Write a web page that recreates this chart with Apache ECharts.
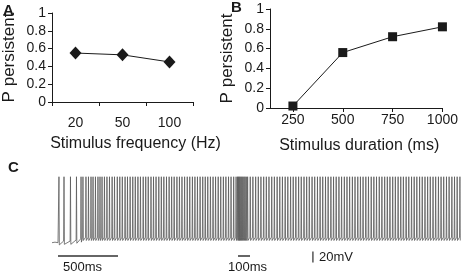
<!DOCTYPE html>
<html>
<head>
<meta charset="utf-8">
<script src="https://cdn.jsdelivr.net/npm/echarts@6/dist/echarts.min.js"></script>
<style>
  html, body { margin: 0; padding: 0; background: #fff; }
  #chart { width: 461px; height: 276px; }
</style>
</head>
<body>
<div id="chart"></div>
<script>
// panel A
const freqCategories = ['20', '50', '100'];
const freqPersistent = [0.55, 0.53, 0.45];

// panel B
const durationTicks = [250, 500, 750, 1000];
const durationPersistent = [0.02, 0.56, 0.72, 0.82];

// panel C: spike times (ms)
const spikeTimes = [
  58, 100, 154, 204, 242, 258, 283, 304, 325, 342, 362, 383, 400, 417, 437, 458,
  479, 501, 521, 544, 565, 586, 609, 629, 651, 673, 694, 716, 737, 760, 781, 802,
  825, 846, 867, 890, 911, 932, 954, 976, 997, 1018, 1041, 1062, 1083, 1105, 1127,
  1148, 1170, 1191, 1212, 1234, 1256, 1277, 1298, 1320, 1342, 1363, 1385, 1406,
  1428, 1449, 1471, 1492, 1514, 1534,
  1546, 1553, 1560, 1567, 1575, 1583, 1591, 1600, 1609, 1619, 1630,
  1652, 1674, 1697, 1719, 1741, 1764, 1786, 1808, 1831, 1853, 1876, 1898, 1920,
  1943, 1965, 1988, 2010, 2032, 2055, 2077, 2100, 2122, 2144, 2167, 2189, 2212,
  2234, 2256, 2279, 2301, 2324, 2346, 2368, 2391, 2413, 2436, 2458, 2480, 2503,
  2525, 2548, 2570, 2592, 2615, 2637, 2660, 2682, 2704, 2727, 2749, 2772, 2794,
  2816, 2839, 2861, 2884, 2906, 2928, 2951, 2973, 2996, 3018, 3040, 3063, 3085,
  3108, 3130, 3152, 3175, 3197, 3220, 3242, 3264, 3287, 3309, 3332, 3354, 3376, 3399
];
const restTrace = [[0, -70], [12, -71], [25, -69], [38, -71], [50, -70]];
const earlyTroughs = [-74, -73, -73, -71, -69];   // deeper AHP of the first spikes
const spikePeak = 50;       // mV
const spikeThreshold = -60; // mV
const spikeTrough = -66;    // mV
const scaleBar500 = [[50, -94], [550, -94]];
const scaleBar100 = [[1550, -94], [1650, -94]];
const scaleBar20mV = [[2174, -86], [2174, -106]];

const trace = restTrace.slice();
spikeTimes.forEach((t, i) => {
  const pre = i < earlyTroughs.length ? earlyTroughs[i] + 6 : spikeThreshold;
  const post = i < earlyTroughs.length ? earlyTroughs[i] : spikeTrough;
  trace.push([t - 3, pre], [t, spikePeak], [t + 3, post]);
});

const font = 'Liberation Sans, Arial, sans-serif';
const ink = '#1a1a1a';

const chart = echarts.init(document.getElementById('chart'));

const axisCommon = {
  axisLine: { show: true, lineStyle: { color: ink, width: 1 } },
  axisTick: { show: true, length: 4, lineStyle: { color: ink } },
  splitLine: { show: false },
  nameTextStyle: { color: ink, fontFamily: font, fontSize: 16 },
  axisLabel: { color: ink, fontFamily: font, fontSize: 14 }
};

chart.setOption({
  animation: false,
  grid: [
    { left: 43, top: 13, width: 150, height: 89 },
    { left: 270, top: 9, width: 174, height: 99 },
    { left: 52, top: 174, right: 0, height: 92 }
  ],
  xAxis: [
    Object.assign({}, axisCommon, {
      gridIndex: 0, type: 'category', data: freqCategories,
      name: 'Stimulus frequency (Hz)', nameLocation: 'middle', nameGap: 34,
      nameTextStyle: Object.assign({}, axisCommon.nameTextStyle, { padding: [0, 0, 0, 26] }),
      axisLabel: Object.assign({}, axisCommon.axisLabel, { margin: 14 })
    }),
    Object.assign({}, axisCommon, {
      gridIndex: 1, type: 'value', min: 135, max: 1000,
      name: 'Stimulus duration (ms)', nameLocation: 'middle', nameGap: 30,
      nameTextStyle: Object.assign({}, axisCommon.nameTextStyle, { padding: [0, 0, 0, 6] }),
      axisTick: Object.assign({}, axisCommon.axisTick, { customValues: durationTicks }),
      axisLabel: Object.assign({}, axisCommon.axisLabel, {
        margin: 5, customValues: durationTicks, formatter: v => String(v)
      })
    }),
    { gridIndex: 2, type: 'value', min: 0, max: 3408, show: false }
  ],
  yAxis: [
    Object.assign({}, axisCommon, {
      gridIndex: 0, type: 'value', min: 0, max: 1, interval: 0.2,
      name: 'P persistent', nameLocation: 'middle', nameGap: 34,
      nameTextStyle: Object.assign({}, axisCommon.nameTextStyle, { fontSize: 17 }),
      axisLabel: Object.assign({}, axisCommon.axisLabel, { margin: 6 })
    }),
    Object.assign({}, axisCommon, {
      gridIndex: 1, type: 'value', min: 0, max: 1, interval: 0.2,
      name: 'P persistent', nameLocation: 'middle', nameGap: 34,
      nameTextStyle: Object.assign({}, axisCommon.nameTextStyle, { fontSize: 17 }),
      axisLabel: Object.assign({}, axisCommon.axisLabel, { margin: 6 })
    }),
    { gridIndex: 2, type: 'value', min: -112.4, max: 55, show: false }
  ],
  series: [
    {
      type: 'line', xAxisIndex: 0, yAxisIndex: 0, data: freqPersistent,
      symbol: 'diamond', symbolSize: [12, 13],
      lineStyle: { color: ink, width: 1 }, itemStyle: { color: ink }
    },
    {
      type: 'line', xAxisIndex: 1, yAxisIndex: 1,
      data: durationTicks.map((d, i) => [d, durationPersistent[i]]),
      symbol: 'rect', symbolSize: 9,
      lineStyle: { color: ink, width: 1 }, itemStyle: { color: ink }
    },
    {
      type: 'line', xAxisIndex: 2, yAxisIndex: 2, data: trace,
      symbol: 'none', lineStyle: { color: '#5a5a5a', width: 0.8 }
    },
    { type: 'line', xAxisIndex: 2, yAxisIndex: 2, data: scaleBar500, symbol: 'none', lineStyle: { color: '#333', width: 1.5 } },
    { type: 'line', xAxisIndex: 2, yAxisIndex: 2, data: scaleBar100, symbol: 'none', lineStyle: { color: '#333', width: 1.5 } },
    { type: 'line', xAxisIndex: 2, yAxisIndex: 2, data: scaleBar20mV, symbol: 'none', lineStyle: { color: '#555', width: 1.5 } }
  ],
  graphic: [
    { type: 'text', left: 3, top: 3, style: { text: 'A', font: 'bold 15px ' + font, fill: ink } },
    { type: 'text', left: 231, top: 0, style: { text: 'B', font: 'bold 15px ' + font, fill: ink } },
    { type: 'text', left: 8, top: 160, style: { text: 'C', font: 'bold 15px ' + font, fill: ink } },
    { type: 'text', left: 63, top: 261, style: { text: '500ms', font: '13px ' + font, fill: ink } },
    { type: 'text', left: 228, top: 261, style: { text: '100ms', font: '13px ' + font, fill: ink } },
    { type: 'text', left: 319, top: 251, style: { text: '20mV', font: '13px ' + font, fill: ink } }
  ]
});
</script>
</body>
</html>
